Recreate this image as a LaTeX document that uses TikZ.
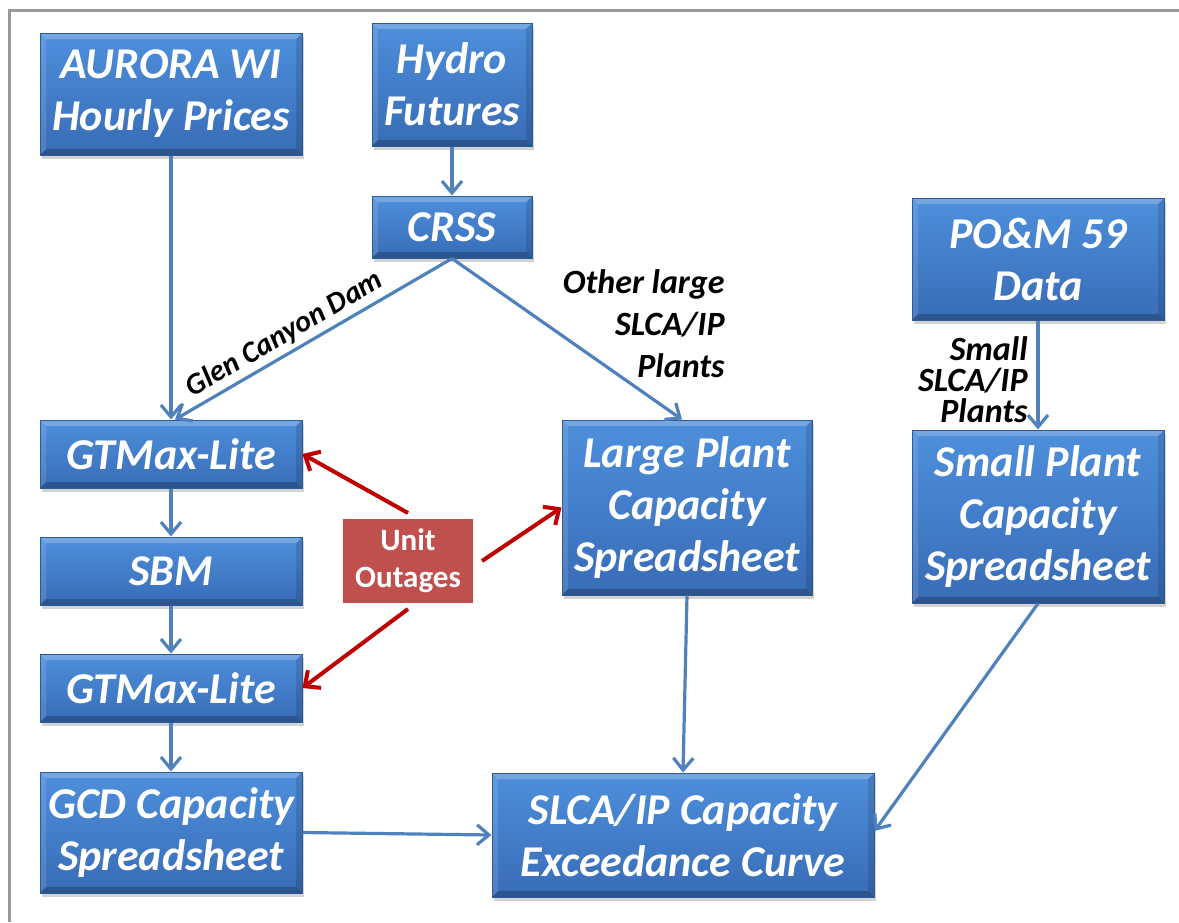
\documentclass[tikz,border=0pt]{standalone}
\usepackage{fontspec}
\setmainfont{Carlito}
\usetikzlibrary{arrows.meta,shadows}
\definecolor{bluetop}{RGB}{78,143,220}
\definecolor{bluebot}{RGB}{56,108,182}
\definecolor{blueedge}{RGB}{48,90,150}
\definecolor{arrowblue}{RGB}{79,129,189}
\definecolor{redfill}{RGB}{192,80,77}
\definecolor{redarrow}{RGB}{192,0,0}
\definecolor{framegray}{RGB}{153,153,153}
\tikzset{
  bbox/.style={rectangle, top color=bluetop, bottom color=bluebot, draw=blueedge,
    line width=0.5pt, text=white, font=\fontsize{22}{26}\selectfont\bfseries\itshape,
    align=center, inner sep=0pt,
    drop shadow={shadow xshift=1pt, shadow yshift=-2pt, opacity=0.35},
    path picture={
      \fill[white,opacity=0.22] (path picture bounding box.north west) -- (path picture bounding box.north east)
        -- ([shift={(-3pt,-3pt)}]path picture bounding box.north east) -- ([shift={(3pt,-3pt)}]path picture bounding box.north west) -- cycle;
      \fill[white,opacity=0.12] (path picture bounding box.north west) -- ([shift={(3pt,-3pt)}]path picture bounding box.north west)
        -- ([shift={(3pt,3pt)}]path picture bounding box.south west) -- (path picture bounding box.south west) -- cycle;
      \fill[black,opacity=0.22] (path picture bounding box.south west) -- (path picture bounding box.south east)
        -- ([shift={(-3pt,3pt)}]path picture bounding box.south east) -- ([shift={(3pt,3pt)}]path picture bounding box.south west) -- cycle;
      \fill[black,opacity=0.12] (path picture bounding box.north east) -- ([shift={(-3pt,-3pt)}]path picture bounding box.north east)
        -- ([shift={(-3pt,3pt)}]path picture bounding box.south east) -- (path picture bounding box.south east) -- cycle;
    }},
  rbox/.style={rectangle, fill=redfill, draw=white, line width=3pt, text=white,
    font=\fontsize{15.5}{18.5}\selectfont\bfseries, align=center, inner sep=0pt,
    minimum width=68pt, minimum height=45pt,
    drop shadow={shadow xshift=0.8pt, shadow yshift=-1.2pt, opacity=0.3}},
  lbl/.style={text=black, font=\fontsize{17}{21}\selectfont\bfseries\itshape, inner sep=0pt},
  barrow/.style={draw=arrowblue, line width=1.6pt, -{Straight Barb[length=6pt,width=10pt]}},
  rarrow/.style={draw=redarrow, line width=2pt, -{Straight Barb[length=6pt,width=11pt]}}
}
\begin{document}
\begin{tikzpicture}[x=0.5pt,y=-0.5pt]
\useasboundingbox (0,0) rectangle (1179,922);
\draw[framegray, line width=1.5pt] (9.5,922) -- (9.5,10) -- (1179,10);

\node[bbox, minimum width=131pt, minimum height=61pt] (aurora) at (171,94) {AURORA WI\\Hourly Prices};
\node[bbox, minimum width=80pt, minimum height=61.5pt] (hydro) at (452,84.5) {Hydro\\Futures};
\node[bbox, minimum width=80pt, minimum height=31pt] (crss) at (452,227) {CRSS};
\node[bbox, minimum width=126pt, minimum height=61pt] (pom) at (1038,259) {PO\&M 59\\Data};
\node[bbox, minimum width=131pt, minimum height=34pt] (gt1) at (171,454) {GTMax-Lite};
\node[bbox, minimum width=125pt, minimum height=87.5pt] (large) at (687,507.5) {Large Plant\\Capacity\\Spreadsheet};
\node[bbox, minimum width=126pt, minimum height=86.5pt] (small) at (1038,516.5) {Small Plant\\Capacity\\Spreadsheet};
\node[bbox, minimum width=131pt, minimum height=34pt] (sbm) at (171,571) {SBM};
\node[bbox, minimum width=131pt, minimum height=34pt] (gt2) at (171,688) {GTMax-Lite};
\node[bbox, minimum width=131pt, minimum height=60.5pt] (gcd) at (171,832.5) {GCD Capacity\\Spreadsheet};
\node[bbox, minimum width=191pt, minimum height=62pt] (slca) at (683,835) {SLCA/IP Capacity\\Exceedance Curve};
\node[rbox] (unit) at (408,561) {Unit\\Outages};

\node[lbl, align=right, anchor=east] (other) at (725,324) {Other large\\SLCA/IP\\Plants};
\node[lbl, align=right, anchor=east, font=\fontsize{17}{15.5}\selectfont\bfseries\itshape] (smalllbl) at (1028,380) {Small\\SLCA/IP\\Plants};

\draw[barrow] (aurora.south) -- (gt1.north);
\draw[barrow] (hydro.south) -- (crss.north);
\draw[barrow] (crss.south) -- node[pos=0.57, sloped, above, lbl, inner sep=2pt, font=\fontsize{15}{18}\selectfont\bfseries\itshape] {Glen Canyon Dam} ([xshift=2pt]gt1.north);
\draw[barrow] (crss.south) -- ([xshift=-2.5pt]large.north);
\draw[barrow] (pom.south) -- (small.north);
\draw[barrow] (gt1.south) -- (sbm.north);
\draw[barrow] (sbm.south) -- (gt2.north);
\draw[barrow] (gt2.south) -- (gcd.north);
\draw[barrow] (gcd.east) -- (slca.west);
\draw[barrow] (large.south) -- (slca.north);
\draw[barrow] (small.south) -- ([yshift=2pt]slca.east);

\draw[rarrow] (unit.north) -- (gt1.east);
\draw[rarrow] ([xshift=1.5pt]unit.east) -- (large.west);
\draw[rarrow] (unit.south) -- (gt2.east);
\end{tikzpicture}
\end{document}
